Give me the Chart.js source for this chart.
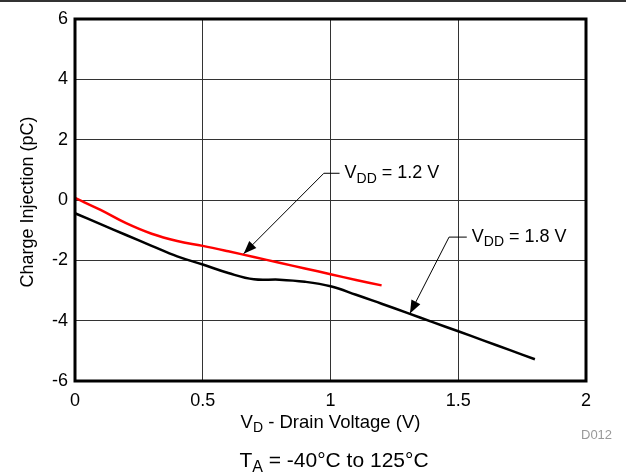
<!DOCTYPE html>
<html>
<head>
<meta charset="utf-8">
<script src="https://cdn.jsdelivr.net/npm/chart.js@4/dist/chart.umd.min.js"></script>
<style>
    html, body { margin: 0; padding: 0; background: #fff; }
    #wrap { width: 626px; height: 474px; position: relative; }
</style>
</head>
<body>
<div id="wrap"><canvas id="chart" width="626" height="474"></canvas></div>
<script>
// Charge injection vs drain voltage
const vdLow = [0, 0.1, 0.2, 0.3, 0.4, 0.5, 0.6, 0.7, 0.8, 0.9, 1.0, 1.1, 1.2];
const qLow = [0.07, -0.33, -0.77, -1.12, -1.36, -1.52, -1.7, -1.89, -2.08, -2.27, -2.46, -2.65, -2.83];

const vdHigh = [0, 0.1, 0.2, 0.3, 0.4, 0.5, 0.6, 0.7, 0.8, 0.9, 1.0, 1.1, 1.2, 1.3, 1.4, 1.5, 1.6, 1.7, 1.8];
const qHigh = [-0.44, -0.8, -1.16, -1.52, -1.87, -2.14, -2.42, -2.63, -2.64, -2.71, -2.86, -3.14, -3.44, -3.74, -4.05, -4.35, -4.66, -4.97, -5.28];

const seriesLabels = ['VDD = 1.2 V', 'VDD = 1.8 V'];

// callouts: tip, elbow and text start in data units
const callouts = [
    { tip: [0.66, -1.78], elbow: [0.974, 0.886], textX: 1.055, parts: [['V', false], ['DD', true], [' = 1.2 V', false]] },
    { tip: [1.311, -3.76], elbow: [1.464, -1.23], textX: 1.553, parts: [['V', false], ['DD', true], [' = 1.8 V', false]] }
];

const FONT = '"Liberation Sans", Arial, Helvetica, sans-serif';

function toPoints(xs, ys) {
    return xs.map((x, i) => ({ x: x, y: ys[i] }));
}

function drawParts(ctx, parts, x, y, size, align) {
    const subSize = Math.round(size * 0.75);
    let total = 0;
    parts.forEach(p => {
        ctx.font = (p[1] ? subSize : size) + 'px ' + FONT;
        total += ctx.measureText(p[0]).width;
    });
    let cx = align === 'center' ? x - total / 2 : x;
    ctx.textBaseline = 'middle';
    ctx.textAlign = 'left';
    parts.forEach(p => {
        ctx.font = (p[1] ? subSize : size) + 'px ' + FONT;
        ctx.fillText(p[0], cx, p[1] ? y + size * 0.3 : y);
        cx += ctx.measureText(p[0]).width;
    });
}

const decorPlugin = {
    id: 'decor',
    afterDraw(chart) {
        const ctx = chart.ctx;
        const a = chart.chartArea;
        const xs = chart.scales.x, ys = chart.scales.y;
        ctx.save();

        // rule at top of page
        ctx.strokeStyle = '#333';
        ctx.lineWidth = 2;
        ctx.beginPath();
        ctx.moveTo(0, 1);
        ctx.lineTo(chart.width, 1);
        ctx.stroke();

        // plot frame
        ctx.strokeStyle = '#000';
        ctx.lineWidth = 3;
        ctx.strokeRect(a.left, a.top, a.right - a.left, a.bottom - a.top);

        // callouts
        ctx.fillStyle = '#000';
        ctx.strokeStyle = '#000';
        ctx.lineWidth = 1;
        callouts.forEach(c => {
            const tx = xs.getPixelForValue(c.tip[0]), ty = ys.getPixelForValue(c.tip[1]);
            const ex = xs.getPixelForValue(c.elbow[0]), ey = ys.getPixelForValue(c.elbow[1]);
            const lx = xs.getPixelForValue(c.textX);
            ctx.beginPath();
            ctx.moveTo(lx - 5, ey);
            ctx.lineTo(ex, ey);
            ctx.lineTo(tx, ty);
            ctx.stroke();
            const ang = Math.atan2(ty - ey, tx - ex);
            const len = 13, half = 5;
            const bx = tx - len * Math.cos(ang), by = ty - len * Math.sin(ang);
            ctx.beginPath();
            ctx.moveTo(tx, ty);
            ctx.lineTo(bx + half * Math.sin(ang), by - half * Math.cos(ang));
            ctx.lineTo(bx - half * Math.sin(ang), by + half * Math.cos(ang));
            ctx.closePath();
            ctx.fill();
            drawParts(ctx, c.parts, lx, ey, 18, 'left');
        });

        // axis titles
        const midX = (a.left + a.right) / 2;
        drawParts(ctx, [['V', false], ['D', true], [' - Drain Voltage (V)', false]], midX, a.bottom + 42, 18.5, 'center');

        ctx.save();
        ctx.translate(28, 202);
        ctx.rotate(-Math.PI / 2);
        drawParts(ctx, [['Charge Injection (pC)', false]], 0, 0, 18, 'center');
        ctx.restore();

        ctx.fillStyle = '#999';
        ctx.font = '13px ' + FONT;
        ctx.textAlign = 'left';
        ctx.textBaseline = 'middle';
        ctx.fillText('D012', 581, 435);

        ctx.fillStyle = '#000';
        drawParts(ctx, [['T', false], ['A', true], [' = -40°C to 125°C', false]], 334, 461, 21, 'center');

        ctx.restore();
    }
};

const ctx = document.getElementById('chart').getContext('2d');
const chart = new Chart(ctx, {
    type: 'line',
    data: {
        datasets: [
            {
                label: seriesLabels[0],
                data: toPoints(vdLow, qLow),
                borderColor: '#ff0000',
                borderWidth: 2.5,
                pointRadius: 0,
                tension: 0.4,
                fill: false
            },
            {
                label: seriesLabels[1],
                data: toPoints(vdHigh, qHigh),
                borderColor: '#000000',
                borderWidth: 2.5,
                pointRadius: 0,
                tension: 0.4,
                fill: false
            }
        ]
    },
    options: {
        responsive: false,
        animation: false,
        devicePixelRatio: 1,
        layout: { padding: { top: 19, right: 40, left: 0, bottom: 0 } },
        plugins: {
            legend: { display: false },
            tooltip: { enabled: false }
        },
        scales: {
            x: {
                type: 'linear',
                min: 0,
                max: 2,
                ticks: { stepSize: 0.5, color: '#000', padding: 9, font: { family: FONT, size: 18 }, callback: v => String(v) },
                grid: { color: '#333', lineWidth: 1, drawTicks: false },
                border: { display: false },
                afterFit: s => { s.height = 93; }
            },
            y: {
                type: 'linear',
                min: -6,
                max: 6,
                ticks: { stepSize: 2, color: '#000', padding: 7, font: { family: FONT, size: 18 }, callback: v => String(v) },
                grid: { color: '#333', lineWidth: 1, drawTicks: false },
                border: { display: false },
                afterFit: s => { s.width = 75; }
            }
        }
    },
    plugins: [decorPlugin]
});
</script>
</body>
</html>
